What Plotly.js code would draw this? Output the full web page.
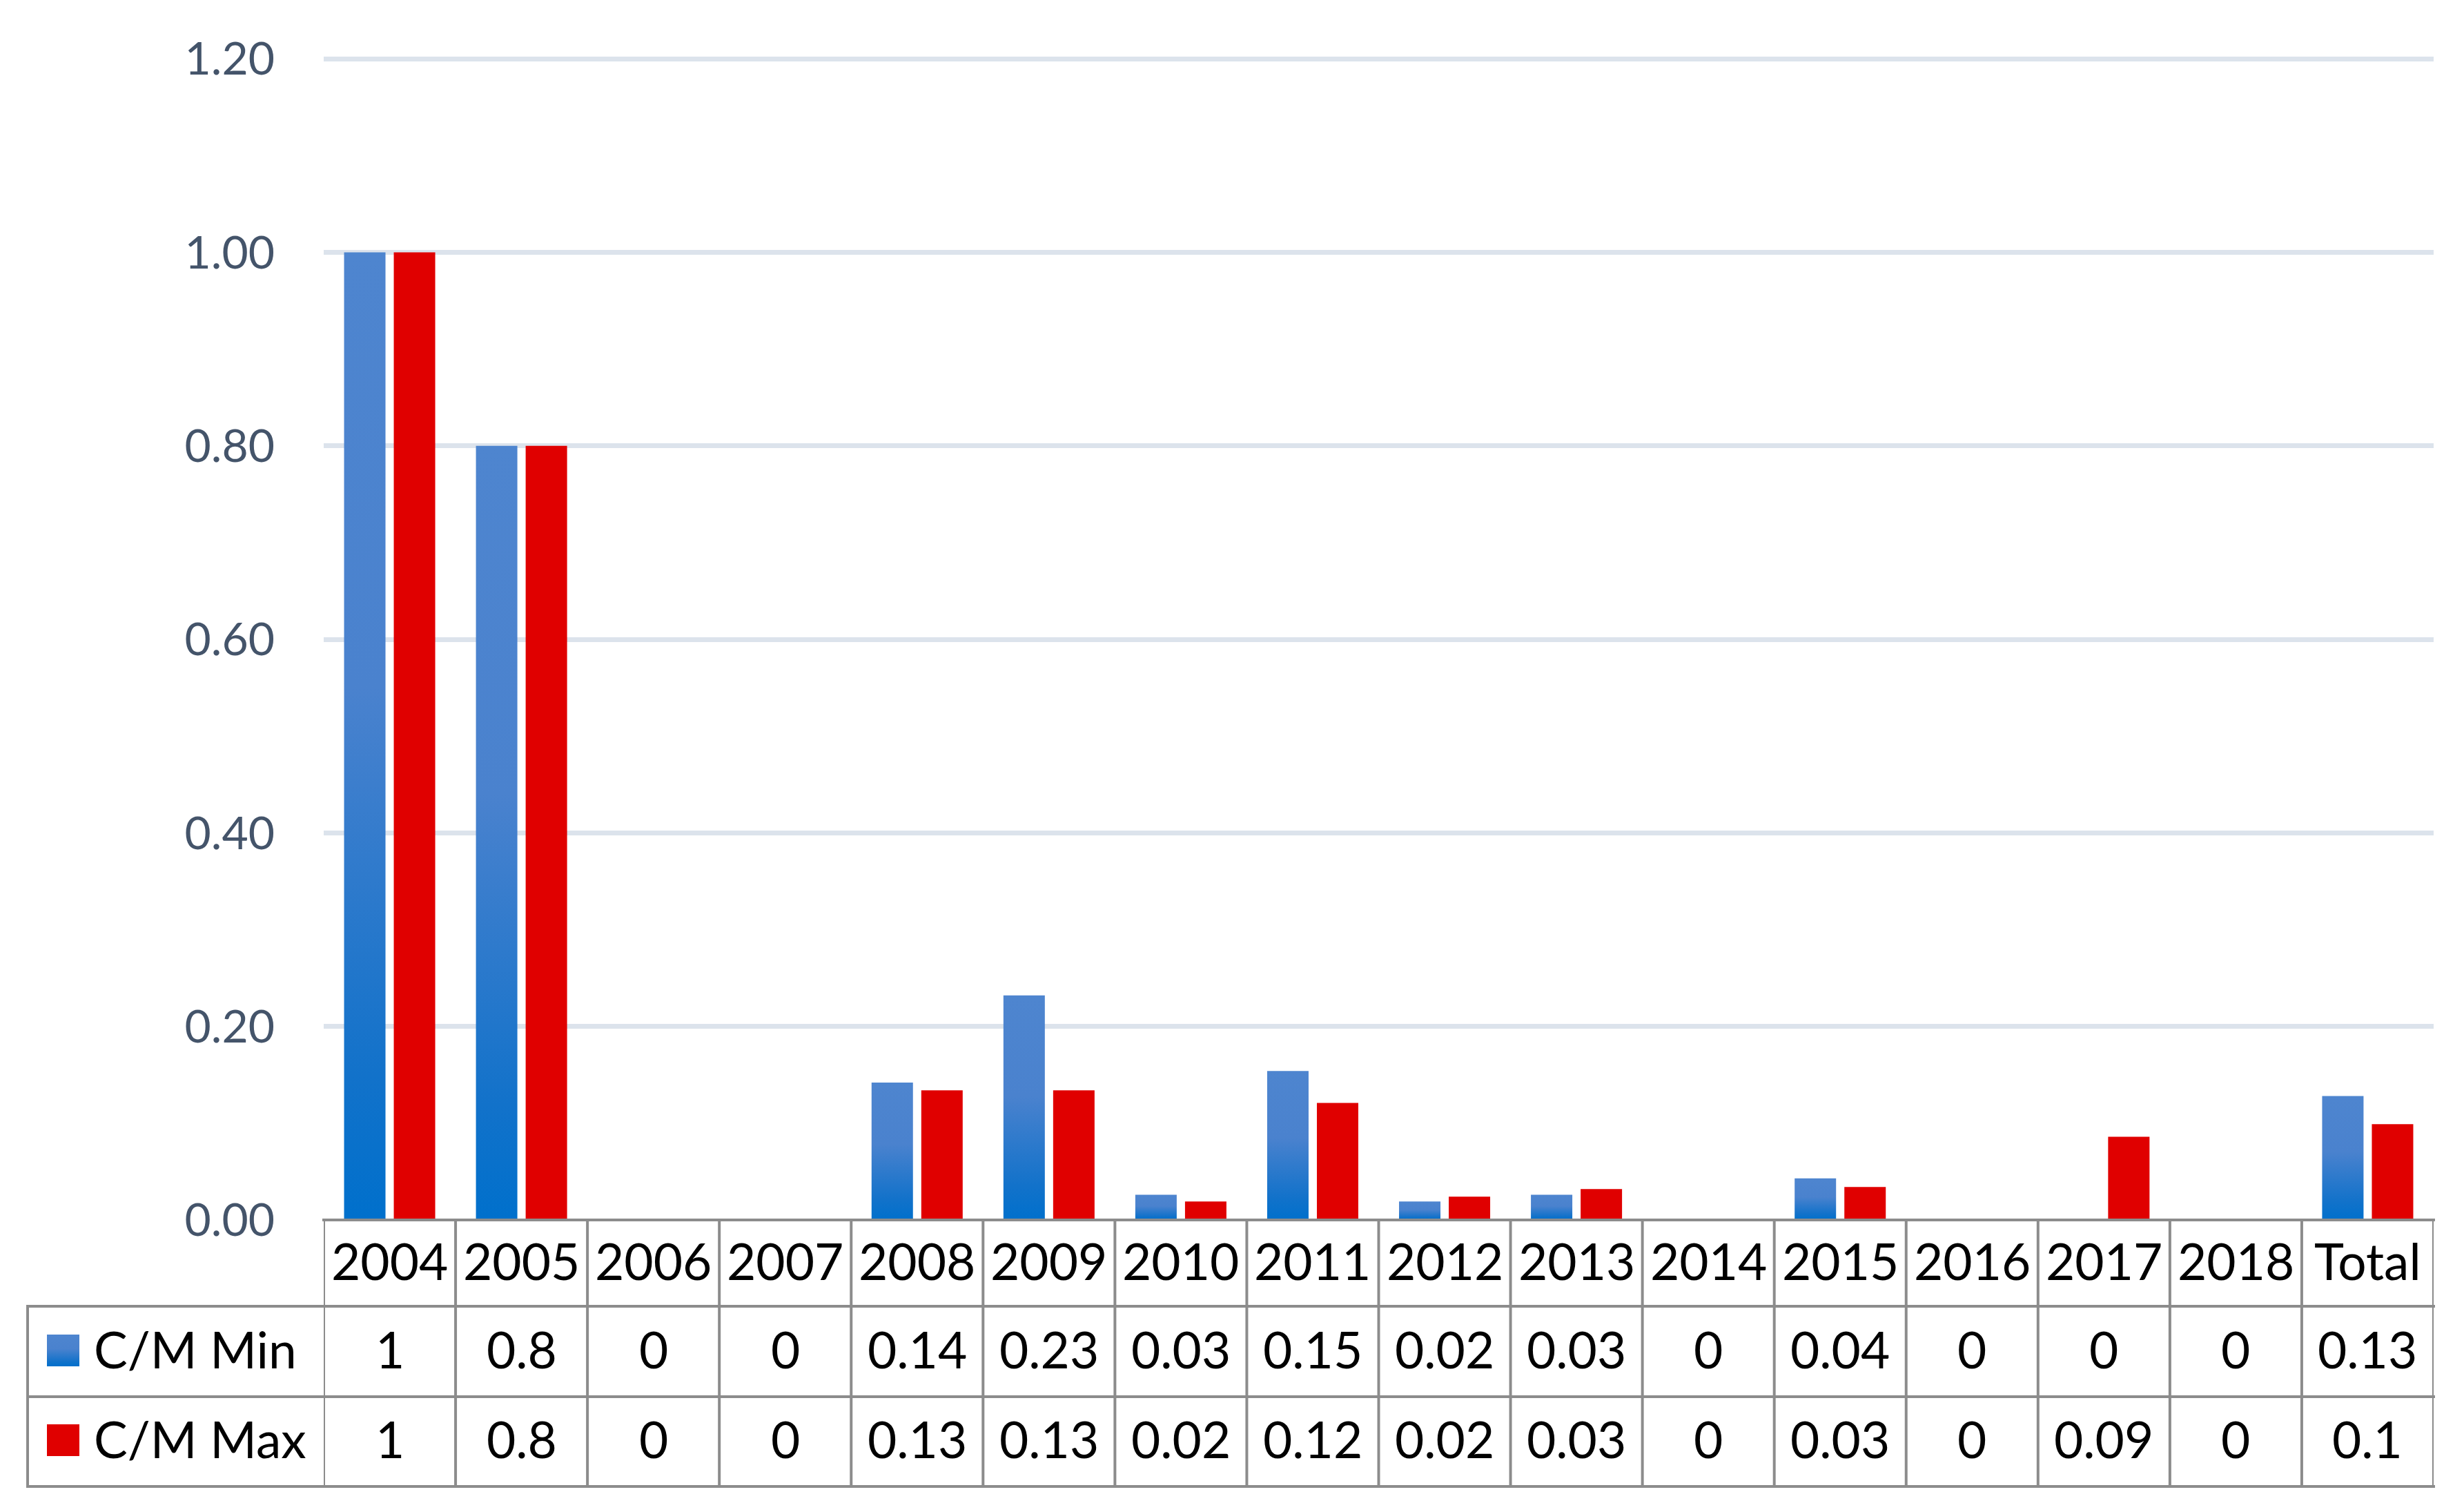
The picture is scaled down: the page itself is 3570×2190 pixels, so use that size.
<!DOCTYPE html>
<html>
<head>
<meta charset="utf-8">
<script src="https://cdn.plot.ly/plotly-3.0.1.min.js"></script>
<style>
  html, body { margin: 0; padding: 0; background: #ffffff; }
  #chart { width: 3570px; height: 2190px; }
</style>
</head>
<body>
<div id="chart"></div>
<script>
// ---- data ----
var categories = ['2004', '2005', '2006', '2007', '2008', '2009', '2010', '2011',
                  '2012', '2013', '2014', '2015', '2016', '2017', '2018', 'Total'];
var minValues = [1, 0.8, 0, 0, 0.142, 0.232, 0.026, 0.154, 0.019, 0.026, 0, 0.043, 0, 0, 0, 0.128];
var maxValues = [1, 0.8, 0, 0, 0.134, 0.134, 0.019, 0.121, 0.024, 0.032, 0, 0.034, 0, 0.086, 0, 0.099];
var seriesNames = ['C/M Min', 'C/M Max'];
var yTickValues = [0, 0.2, 0.4, 0.6, 0.8, 1.0, 1.2];

// ---- styling / geometry ----
var W = 3570, H = 2190;
var YMAX = 1.203;                 // a hair above 1.2 so the top gridline is drawn
var L = 469, R = 3526, B = 1767;
var T = Math.round(B - (B - 85) * YMAX / 1.2);
var PW = R - L, PH = B - T;
function px(x) { return (x - L) / PW; }      // pixel x -> paper x
function py(y) { return (B - y) / PH; }      // pixel y -> paper y

var FONT = 'Lato, "Open Sans", "Liberation Sans", sans-serif';
var BLUE = '#2F79CD', RED = '#E00000', LINE = '#8C8C8C';

function fmt(v) { return String(Math.round(v * 100) / 100); }

var traces = [
  { type: 'bar', name: seriesNames[0], x: categories, y: minValues,
    marker: { color: BLUE, line: { width: 0 } }, hoverinfo: 'none' },
  { type: 'bar', name: seriesNames[1], x: categories, y: maxValues,
    marker: { color: RED, line: { width: 0 } }, hoverinfo: 'none' }
];

// table rows (pixel y boundaries)
var rowTop = B, rowHdr = 1892, rowMin = 2023, rowMax = 2153;
var leftX = 40;
var TXT_SHIFT = -4;   // visual centring of text in rows

var shapes = [];
function hline(x0, x1, y) {
  shapes.push({ type: 'line', xref: 'paper', yref: 'paper', x0: x0, x1: x1, y0: py(y), y1: py(y),
                line: { color: LINE, width: 4 }, layer: 'above' });
}
hline(px(L - 2), px(R + 2), rowTop);
hline(px(leftX - 2), px(R + 2), rowHdr);
hline(px(leftX - 2), px(R + 2), rowMin);
hline(px(leftX - 2), px(R + 2), rowMax);
for (var i = 0; i <= categories.length; i++) {
  shapes.push({ type: 'line', xref: 'x', yref: 'paper', x0: i - 0.5, x1: i - 0.5,
                y0: py(rowTop), y1: py(rowMax), line: { color: LINE, width: 4 }, layer: 'above' });
}
shapes.push({ type: 'line', xref: 'paper', yref: 'paper', x0: px(leftX), x1: px(leftX),
              y0: py(rowHdr), y1: py(rowMax), line: { color: LINE, width: 4 }, layer: 'above' });
// legend keys
var keyMinIndex = shapes.length;
shapes.push({ type: 'rect', xref: 'paper', yref: 'paper', x0: px(68), x1: px(115),
              y0: py(1979), y1: py(1933), fillcolor: BLUE, line: { width: 0 }, layer: 'above' });
shapes.push({ type: 'rect', xref: 'paper', yref: 'paper', x0: px(68), x1: px(115),
              y0: py(2109), y1: py(2063), fillcolor: RED, line: { width: 0 }, layer: 'above' });

var annotations = [];
var tf = { family: FONT, size: 73, color: '#000000' };
var yHdr = py((rowTop + rowHdr) / 2 + TXT_SHIFT),
    yMinRow = py((rowHdr + rowMin) / 2 + TXT_SHIFT),
    yMaxRow = py((rowMin + rowMax) / 2 + TXT_SHIFT);
categories.forEach(function (c, k) {
  // category axis: position by category index
  annotations.push({ xref: 'x', yref: 'paper', x: k, y: yHdr, text: c, showarrow: false,
                     xanchor: 'center', yanchor: 'middle', font: tf });
  annotations.push({ xref: 'x', yref: 'paper', x: k, y: yMinRow, text: fmt(minValues[k]), showarrow: false,
                     xanchor: 'center', yanchor: 'middle', font: tf });
  annotations.push({ xref: 'x', yref: 'paper', x: k, y: yMaxRow, text: fmt(maxValues[k]), showarrow: false,
                     xanchor: 'center', yanchor: 'middle', font: tf });
});
annotations.push({ xref: 'paper', yref: 'paper', x: px(134), y: yMinRow, text: seriesNames[0], showarrow: false,
                   xanchor: 'left', yanchor: 'middle', font: tf });
annotations.push({ xref: 'paper', yref: 'paper', x: px(134), y: yMaxRow, text: seriesNames[1], showarrow: false,
                   xanchor: 'left', yanchor: 'middle', font: tf });

var layout = {
  width: W, height: H,
  margin: { l: L, r: W - R, t: T, b: H - B, pad: 0 },
  paper_bgcolor: '#ffffff', plot_bgcolor: '#ffffff',
  showlegend: false,
  barmode: 'group', bargap: 0.246, bargroupgap: 0.167,
  font: { family: FONT },
  xaxis: { type: 'category', categoryorder: 'array', categoryarray: categories,
           range: [-0.5, categories.length - 0.5], showticklabels: false,
           showgrid: false, zeroline: false, showline: false, ticks: '' },
  yaxis: { range: [0, YMAX], tickmode: 'array', tickvals: yTickValues,
           ticktext: yTickValues.map(function (v) { return v.toFixed(2); }),
           showgrid: true, gridcolor: '#DCE3EC', gridwidth: 7,
           zeroline: false, showline: false, ticks: '', ticklabelstandoff: 70,
           tickfont: { family: FONT, size: 66, color: '#44546A' } },
  shapes: shapes,
  annotations: annotations
};

var gd = document.getElementById('chart');
Plotly.newPlot(gd, traces, layout, { staticPlot: true, displayModeBar: false }).then(function () {
  var svg = gd.querySelector('svg.main-svg');
  var ns = 'http://www.w3.org/2000/svg';
  var defs = svg.querySelector('defs') || svg.insertBefore(document.createElementNS(ns, 'defs'), svg.firstChild);
  var g = document.createElementNS(ns, 'linearGradient');
  g.setAttribute('id', 'minGrad');
  g.setAttribute('x1', '0'); g.setAttribute('y1', '0');
  g.setAttribute('x2', '0'); g.setAttribute('y2', '1');
  [['0', '#4E85CF'], ['0.45', '#4A82CE'], ['0.85', '#1272CA'], ['1', '#0070CC']].forEach(function (s) {
    var st = document.createElementNS(ns, 'stop');
    st.setAttribute('offset', s[0]); st.setAttribute('stop-color', s[1]);
    g.appendChild(st);
  });
  defs.appendChild(g);
  var bars = gd.querySelectorAll('.barlayer .trace');
  if (bars.length) {
    bars[0].querySelectorAll('path').forEach(function (p) { p.style.fill = 'url(#minGrad)'; });
  }
  var key = gd.querySelector('.shapelayer path[data-index="' + keyMinIndex + '"]');
  if (key) key.style.fill = 'url(#minGrad)';
});
</script>
</body>
</html>
